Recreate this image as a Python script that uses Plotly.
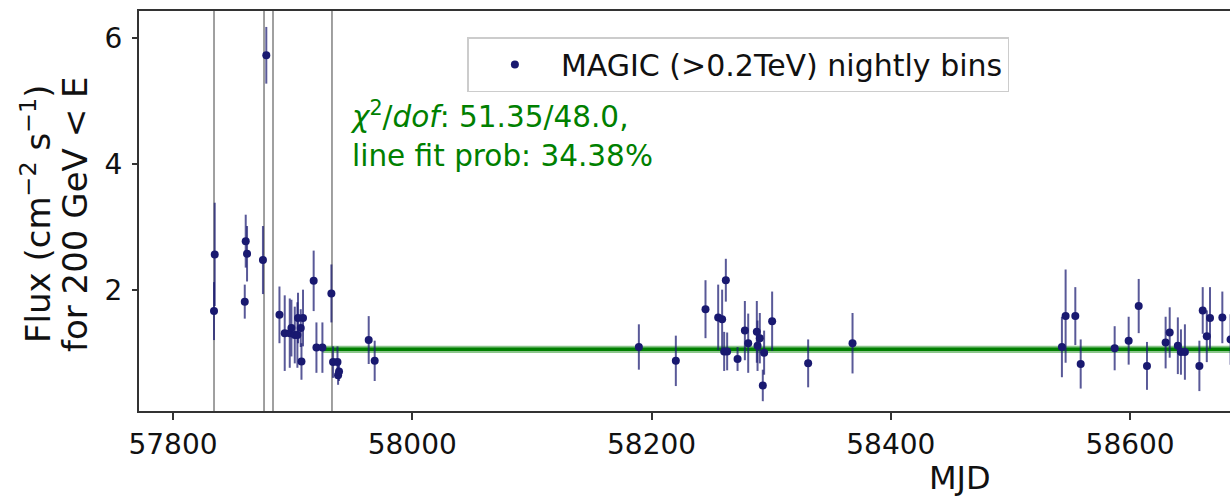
import plotly.graph_objects as go

# Nightly MAGIC light curve (>200 GeV)
mjd = [
    57834.3, 57834.9, 57860.0, 57860.8, 57861.9, 57875.2, 57878.0, 57889.0,
    57893.4, 57897.6, 57899.0, 57901.8, 57904.0, 57904.5, 57906.8, 57907.4,
    57908.7, 57917.6, 57919.9, 57924.9, 57932.4, 57933.8, 57937.5, 57938.0,
    57938.8, 57963.6, 57968.6, 58189.4, 58220.3, 58245.1, 58255.7, 58259.0,
    58260.7, 58262.1, 58263.2, 58271.9, 58278.0, 58280.8, 58288.0, 58288.6,
    58290.5, 58293.0, 58294.1, 58300.8, 58330.9, 58368.0, 58543.0, 58546.1,
    58554.2, 58558.7, 58587.1, 58598.8, 58607.2, 58614.1, 58629.7, 58633.1,
    58639.9, 58642.5, 58645.8, 58657.9, 58660.7, 58664.1, 58666.8, 58677.1,
    58684.0,
]
flux = [
    1.67, 2.57, 1.82, 2.78, 2.58, 2.48, 5.73, 1.61,
    1.32, 1.32, 1.40, 1.29, 1.29, 1.56, 1.40, 0.87,
    1.56, 2.15, 1.09, 1.09, 1.95, 0.86, 0.86, 0.65,
    0.71, 1.21, 0.88, 1.10, 0.88, 1.70, 1.57, 1.54,
    1.03, 2.16, 1.03, 0.91, 1.36, 1.16, 1.34, 1.12,
    1.24, 0.49, 1.01, 1.51, 0.84, 1.16, 1.10, 1.59,
    1.59, 0.83, 1.08, 1.20, 1.75, 0.80, 1.17, 1.33,
    1.12, 1.02, 1.02, 0.80, 1.68, 1.27, 1.56, 1.57,
    1.22,
]
flux_err = [
    0.46, 0.82, 0.27, 0.42, 0.44, 0.54, 0.45, 0.45,
    0.60, 0.55, 0.45, 0.45, 0.52, 0.40, 0.30, 0.29,
    0.45, 0.48, 0.40, 0.40, 0.46, 0.25, 0.25, 0.15,
    0.15, 0.38, 0.32, 0.36, 0.40, 0.46, 0.52, 0.47,
    0.31, 0.34, 0.30, 0.19, 0.47, 0.47, 0.49, 0.40,
    0.40, 0.25, 0.35, 0.47, 0.38, 0.48, 0.48, 0.74,
    0.46, 0.39, 0.35, 0.38, 0.43, 0.38, 0.41, 0.40,
    0.45, 0.36, 0.44, 0.40, 0.37, 0.41, 0.49, 0.41,
    0.40,
]

# Constant-flux fit after the flaring period
FIT_START = 57925.0
FIT_END = 58800.0
FIT_LEVEL = 1.063
FIT_ERR = 0.058
CHI2 = 51.35
DOF = 48.0
FIT_PROB = 34.38

# Flare epochs marked by vertical lines
flare_mjd = [57834.3, 57876.1, 57883.6, 57932.9]

X_RANGE = [57771.6, 58683.5]
Y_RANGE = [0.084, 6.433]
x_ticks = [57800, 58000, 58200, 58400, 58600]
y_ticks = [2, 4, 6]
y_title_lines = ["Flux (cm<sup>−2</sup> s<sup>−1</sup>)", "for 200 GeV &lt; E"]

FONT = "DejaVu Sans"
INK = "#111111"
NAVY = "#191970"

fig = go.Figure()

# 1-sigma band of the constant fit
fig.add_trace(go.Scatter(
    x=[FIT_START, FIT_END, FIT_END, FIT_START],
    y=[FIT_LEVEL + FIT_ERR, FIT_LEVEL + FIT_ERR, FIT_LEVEL - FIT_ERR, FIT_LEVEL - FIT_ERR],
    fill="toself", fillcolor="rgba(0,128,0,0.45)", line=dict(width=0),
    mode="lines", hoverinfo="skip", showlegend=False,
))
# fit line
fig.add_trace(go.Scatter(
    x=[FIT_START, FIT_END], y=[FIT_LEVEL, FIT_LEVEL],
    mode="lines", line=dict(color="green", width=3.5),
    hoverinfo="skip", showlegend=False,
))

# nightly fluxes
fig.add_trace(go.Scatter(
    x=mjd, y=flux, mode="markers",
    name="MAGIC (>0.2TeV) nightly bins",
    marker=dict(color=NAVY, size=8),
    error_y=dict(type="data", array=flux_err, visible=True,
                 color="rgba(25,25,112,0.72)", thickness=2, width=0),
))

for m in flare_mjd:
    fig.add_vline(x=m, line=dict(color="#808080", width=1.5), layer="below")

# fit statistics
fig.add_annotation(
    text=(f"<i>χ</i><sup>2</sup>/<i>dof</i>: {CHI2:.2f}/{DOF:.1f},<br>"
          f"line fit prob: {FIT_PROB:.2f}%"),
    xref="paper", yref="paper", x=0.1915, y=0.6925,
    xanchor="left", yanchor="middle", align="left", showarrow=False,
    font=dict(family=FONT, size=29.5, color="green"),
)

# axis labels
fig.add_annotation(
    text="MJD", xref="paper", yref="paper", x=0.7525, y=-0.1675,
    xanchor="center", yanchor="middle", showarrow=False,
    font=dict(family=FONT, size=32, color=INK),
)
for text, xpos in zip(y_title_lines, [-0.0944, -0.0587]):
    fig.add_annotation(
        text=text, xref="paper", yref="paper", x=xpos, y=0.4925,
        xanchor="center", yanchor="middle", textangle=-90, showarrow=False,
        font=dict(family=FONT, size=34, color=INK),
    )

fig.update_layout(
    width=1230, height=498,
    margin=dict(l=139, r=0, t=11, b=87),
    paper_bgcolor="white", plot_bgcolor="white",
    font=dict(family=FONT, color=INK),
    showlegend=True,
    legend=dict(
        x=0.301, y=0.935, xanchor="left", yanchor="top",
        bgcolor="white", bordercolor="#cccccc", borderwidth=1.5,
        font=dict(family=FONT, size=30, color=INK),
        itemwidth=82,
    ),
)
fig.update_xaxes(
    range=X_RANGE, tickvals=x_ticks, ticktext=[str(v) for v in x_ticks],
    showgrid=False, zeroline=False,
    showline=True, linecolor="#333333", linewidth=2, mirror=True,
    ticks="outside", ticklen=7, tickwidth=2, tickcolor="#333333",
    tickfont=dict(family=FONT, size=28, color=INK),
)
fig.update_yaxes(
    range=Y_RANGE, tickvals=y_ticks, ticktext=[str(v) for v in y_ticks],
    showgrid=False, zeroline=False,
    showline=True, linecolor="#333333", linewidth=2, mirror=False,
    ticks="outside", ticklen=5, tickwidth=2, tickcolor="#333333",
    ticklabelstandoff=4,
    tickfont=dict(family=FONT, size=28, color=INK),
)

fig.write_html("out.html")
